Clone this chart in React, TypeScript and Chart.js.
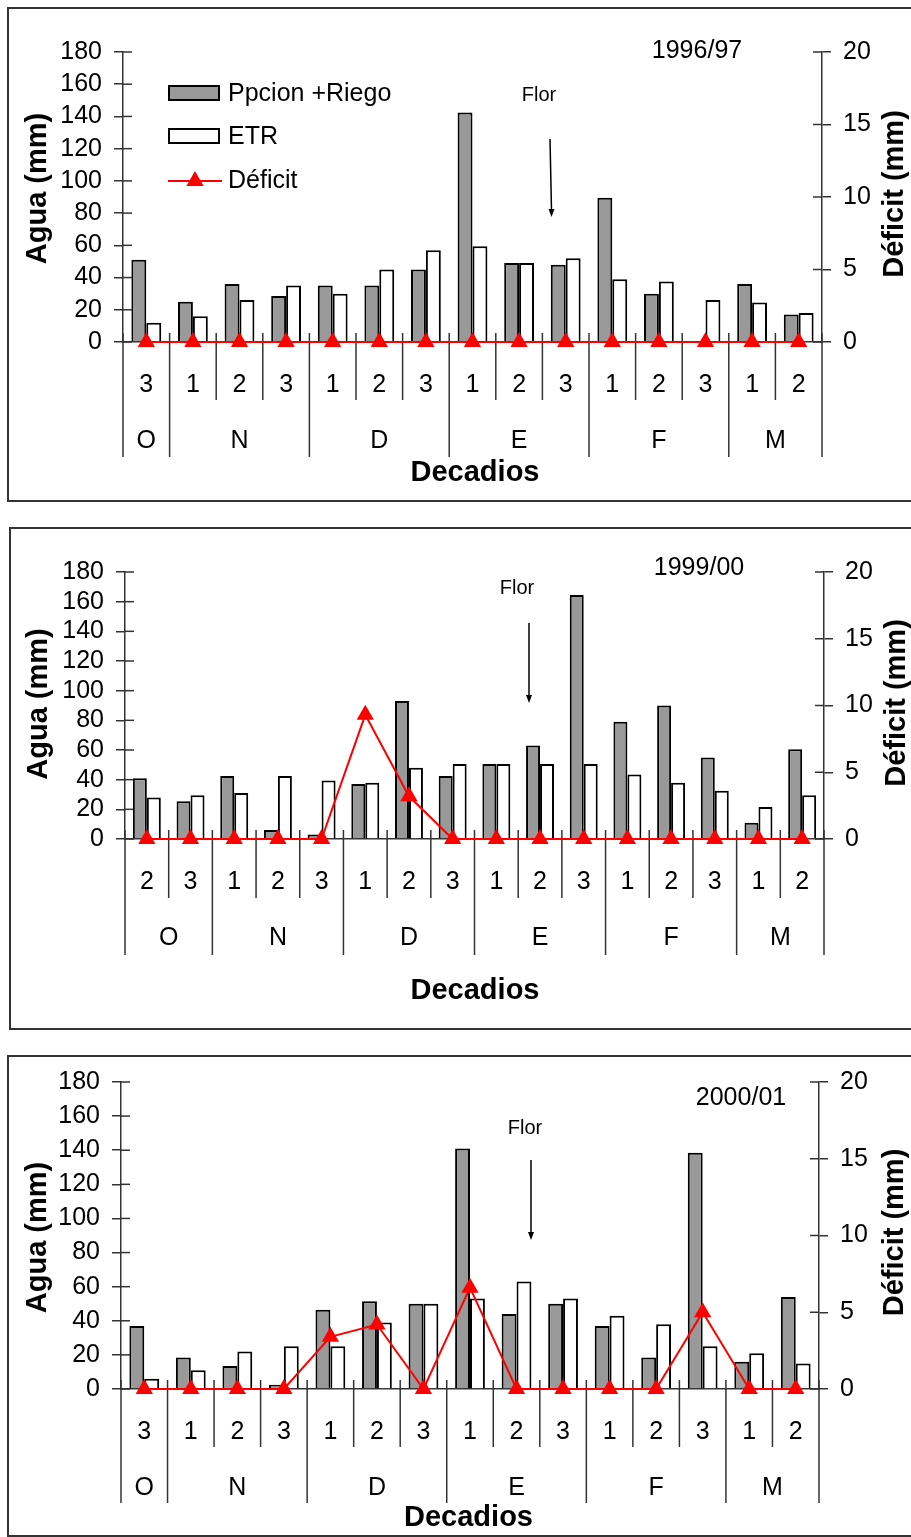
import React, { useEffect, useRef } from 'react';
import { Chart, registerables } from 'chart.js';

Chart.register(...registerables);

const FONT = "'Liberation Sans', Arial, Helvetica, sans-serif";
const AX = '#333333';
const RED = '#ff0000';
const GRAY = '#999999';
const PAGE_W = 911;

// ---------- Data: 1996/97 ----------
const labels1 = ['3', '1', '2', '3', '1', '2', '3', '1', '2', '3', '1', '2', '3', '1', '2'];
const months1 = ['O', 'N', 'D', 'E', 'F', 'M'];
const monthCounts1 = [1, 3, 3, 3, 3, 2];
const ppcion1 = [51, 25, 36, 28.5, 35, 35, 45, 142.5, 49, 48, 89.5, 30, 0, 36, 17];
const etr1 = [12, 16, 26, 35, 30, 45, 57, 59.5, 49, 52, 39, 37.5, 26, 24.5, 18];
const deficit1 = [0, 0, 0, 0, 0, 0, 0, 0, 0, 0, 0, 0, 0, 0, 0];

// ---------- Data: 1999/00 ----------
const labels2 = ['2', '3', '1', '2', '3', '1', '2', '3', '1', '2', '3', '1', '2', '3', '1', '2'];
const months2 = ['O', 'N', 'D', 'E', 'F', 'M'];
const monthCounts2 = [2, 3, 3, 3, 3, 2];
const ppcion2 = [41, 25.5, 42.5, 6, 3, 37, 93, 42.5, 50.5, 63, 164.5, 79, 90, 55, 11, 60.5];
const etr2 = [28, 29.5, 31, 42.5, 39.5, 38, 48, 50.5, 50.5, 50.5, 50.5, 43.5, 38, 32.5, 21.5, 29.5];
const deficit2 = [0, 0, 0, 0, 0, 9.3, 3.2, 0, 0, 0, 0, 0, 0, 0, 0, 0];

// ---------- Data: 2000/01 ----------
const labels3 = ['3', '1', '2', '3', '1', '2', '3', '1', '2', '3', '1', '2', '3', '1', '2'];
const months3 = ['O', 'N', 'D', 'E', 'F', 'M'];
const monthCounts3 = [1, 3, 3, 3, 3, 2];
const ppcion3 = [37, 18.5, 13.5, 2.5, 46.5, 51.5, 50, 141, 44, 50, 37, 18.5, 138.5, 16, 54];
const etr3 = [6, 11, 22, 25, 25, 39, 50, 53, 63, 53, 43, 38, 25, 21, 15];
const deficit3 = [0, 0, 0, 0, 3.4, 4.2, 0, 6.6, 0, 0, 0, 0, 5.0, 0, 0];

const yLeftTicks = { min: 0, max: 180, step: 20 };
const yRightTicks = { min: 0, max: 20, step: 5 };

const seriesNames = ['Ppcion +Riego', 'ETR', 'Déficit'];

type PanelCfg = {
  labels: string[]; months: string[]; monthCounts: number[];
  ppcion: number[]; etr: number[]; deficit: number[];
  year: string; legend: boolean;
  top: number; height: number; boxLeft: number;
  left: number; right: number; chartTop: number; chartBottom: number;
  decSep: number; monSep: number; monLabel: number; decadios: number; decadiosX: number;
  aguaX: number; aguaY: number; defX: number; defY: number;
  yearX: number; yearY: number; florX: number; florY: number;
  arrowX1: number; arrowY1: number; arrowX2: number; arrowY2: number;
};

const panels: PanelCfg[] = [
  {
    labels: labels1, months: months1, monthCounts: monthCounts1,
    ppcion: ppcion1, etr: etr1, deficit: deficit1, year: '1996/97', legend: true,
    top: 7, height: 495, boxLeft: 7, left: 123, right: 822, chartTop: 52, chartBottom: 342,
    decSep: 58, monSep: 115, monLabel: 99, decadios: 131, decadiosX: 475,
    aguaX: 37.5, aguaY: 188.5, defX: 895, defY: 194,
    yearX: 697, yearY: 51, florX: 539, florY: 95,
    arrowX1: 550, arrowY1: 139, arrowX2: 551.5, arrowY2: 217,
  },
  {
    labels: labels2, months: months2, monthCounts: monthCounts2,
    ppcion: ppcion2, etr: etr2, deficit: deficit2, year: '1999/00', legend: false,
    top: 527, height: 503, boxLeft: 9, left: 125, right: 824, chartTop: 572, chartBottom: 839,
    decSep: 59, monSep: 116, monLabel: 99, decadios: 152, decadiosX: 475,
    aguaX: 39, aguaY: 704, defX: 897, defY: 703,
    yearX: 699, yearY: 568, florX: 517, florY: 588,
    arrowX1: 529, arrowY1: 623, arrowX2: 529, arrowY2: 703,
  },
  {
    labels: labels3, months: months3, monthCounts: monthCounts3,
    ppcion: ppcion3, etr: etr3, deficit: deficit3, year: '2000/01', legend: false,
    top: 1055, height: 482, boxLeft: 7, left: 121, right: 819, chartTop: 1082, chartBottom: 1389,
    decSep: 58, monSep: 114, monLabel: 99, decadios: 129, decadiosX: 468.5,
    aguaX: 37.5, aguaY: 1237.5, defX: 895, defY: 1232.5,
    yearX: 741, yearY: 1098, florX: 525, florY: 1128,
    arrowX1: 531, arrowY1: 1160, arrowX2: 531, arrowY2: 1240,
  },
];

function drawTriangle(ctx: CanvasRenderingContext2D, x: number, y: number, r: number) {
  ctx.beginPath();
  ctx.moveTo(x, y - r);
  ctx.lineTo(x + r * 0.866, y + r * 0.5);
  ctx.lineTo(x - r * 0.866, y + r * 0.5);
  ctx.closePath();
  ctx.fill();
}

function makeDecor(p: PanelCfg) {
  const oy = p.top;
  return {
    id: 'decor',
    beforeDatasetsDraw(chart: any) {
      const { ctx, scales } = chart;
      const x = scales.x, y = scales.y, y1 = scales.y1;
      const axisY = y.getPixelForValue(0);
      const n = p.labels.length;
      const step = x.getPixelForValue(1) - x.getPixelForValue(0);
      ctx.save();
      ctx.strokeStyle = AX;
      ctx.lineWidth = 1.5;
      // inner halves of the cross tick marks
      y.ticks.forEach((t: any) => {
        const py = y.getPixelForValue(t.value);
        ctx.beginPath(); ctx.moveTo(y.right, py); ctx.lineTo(y.right + 9, py); ctx.stroke();
      });
      y1.ticks.forEach((t: any) => {
        const py = y1.getPixelForValue(t.value);
        ctx.beginPath(); ctx.moveTo(y1.left - 9, py); ctx.lineTo(y1.left, py); ctx.stroke();
      });
      // category separators
      const monthBounds = new Set<number>();
      let acc = 0;
      monthBounds.add(0);
      p.monthCounts.forEach((c) => { acc += c; monthBounds.add(acc); });
      for (let i = 0; i <= n; i++) {
        const bx = i < n ? x.getPixelForValue(i) - step / 2 : x.getPixelForValue(n - 1) + step / 2;
        const len = monthBounds.has(i) ? p.monSep : p.decSep;
        ctx.beginPath();
        ctx.moveTo(bx, axisY - 9);
        ctx.lineTo(bx, axisY + len);
        ctx.stroke();
      }
      ctx.restore();
    },
    afterDraw(chart: any) {
      const { ctx, scales } = chart;
      const x = scales.x, y = scales.y;
      const axisY = y.getPixelForValue(0);
      ctx.save();
      ctx.fillStyle = '#000';
      // month labels
      ctx.font = `25px ${FONT}`;
      ctx.textAlign = 'center';
      ctx.textBaseline = 'middle';
      let s = 0;
      p.months.forEach((m, k) => {
        const c = p.monthCounts[k];
        const cx = (x.getPixelForValue(s) + x.getPixelForValue(s + c - 1)) / 2;
        ctx.fillText(m, cx, axisY + p.monLabel);
        s += c;
      });
      // axis titles
      ctx.font = `bold 29px ${FONT}`;
      ctx.fillText('Decadios', p.decadiosX, axisY + p.decadios);
      ctx.save();
      ctx.translate(p.aguaX, p.aguaY - oy);
      ctx.rotate(-Math.PI / 2);
      ctx.fillText('Agua (mm)', 0, 0);
      ctx.restore();
      ctx.save();
      ctx.translate(p.defX, p.defY - oy);
      ctx.rotate(-Math.PI / 2);
      ctx.fillText('Déficit (mm)', 0, 0);
      ctx.restore();
      // year label
      ctx.font = `25px ${FONT}`;
      ctx.fillText(p.year, p.yearX, p.yearY - oy);
      // Flor annotation
      ctx.font = `20px ${FONT}`;
      ctx.fillText('Flor', p.florX, p.florY - oy);
      ctx.strokeStyle = '#000';
      ctx.lineWidth = 1.5;
      ctx.beginPath();
      ctx.moveTo(p.arrowX1, p.arrowY1 - oy);
      ctx.lineTo(p.arrowX2, p.arrowY2 - oy - 6);
      ctx.stroke();
      ctx.beginPath();
      ctx.moveTo(p.arrowX2, p.arrowY2 - oy);
      ctx.lineTo(p.arrowX2 - 3, p.arrowY2 - oy - 8);
      ctx.lineTo(p.arrowX2 + 3, p.arrowY2 - oy - 8);
      ctx.closePath();
      ctx.fill();
      // legend
      if (p.legend) {
        ctx.lineWidth = 2;
        ctx.strokeStyle = '#000';
        ctx.fillStyle = GRAY;
        ctx.fillRect(169, 86 - oy, 50, 14);
        ctx.strokeRect(169, 86 - oy, 50, 14);
        ctx.fillStyle = '#fff';
        ctx.fillRect(169, 129 - oy, 50, 14);
        ctx.strokeRect(169, 129 - oy, 50, 14);
        ctx.strokeStyle = RED;
        ctx.beginPath();
        ctx.moveTo(168, 181 - oy);
        ctx.lineTo(222, 181 - oy);
        ctx.stroke();
        ctx.fillStyle = RED;
        drawTriangle(ctx, 195, 181 - oy, 10);
        ctx.fillStyle = '#000';
        ctx.font = `25px ${FONT}`;
        ctx.textAlign = 'left';
        ctx.fillText(seriesNames[0], 228, 94 - oy);
        ctx.fillText(seriesNames[1], 228, 137 - oy);
        ctx.fillText(seriesNames[2], 228, 181 - oy);
      }
      ctx.restore();
    },
  };
}

function Panel({ p }: { p: PanelCfg }) {
  const ref = useRef<HTMLCanvasElement | null>(null);
  useEffect(() => {
    if (!ref.current) return;
    const xH = p.top + p.height - p.chartBottom;
    const tickFont = { size: 25, family: FONT };
    const chart = new Chart(ref.current, {
      type: 'bar',
      data: {
        labels: p.labels,
        datasets: [
          {
            type: 'line', label: seriesNames[2], data: p.deficit, yAxisID: 'y1',
            borderColor: RED, backgroundColor: RED, borderWidth: 2, tension: 0,
            pointStyle: 'triangle', pointRadius: 10, pointBackgroundColor: RED,
            pointBorderColor: RED, pointBorderWidth: 0, clip: false, order: 0,
          } as any,
          {
            type: 'bar', label: seriesNames[0], data: p.ppcion, yAxisID: 'y',
            backgroundColor: GRAY, borderColor: '#000', borderWidth: 2,
            categoryPercentage: 0.64, barPercentage: 1, order: 1,
          } as any,
          {
            type: 'bar', label: seriesNames[1], data: p.etr, yAxisID: 'y',
            backgroundColor: '#ffffff', borderColor: '#000', borderWidth: 2,
            categoryPercentage: 0.64, barPercentage: 1, order: 2,
          } as any,
        ],
      },
      options: {
        responsive: false,
        animation: false,
        events: [],
        layout: { padding: { top: p.chartTop - p.top, left: 0, right: 0, bottom: 0 } },
        plugins: { legend: { display: false }, tooltip: { enabled: false }, title: { display: false } },
        scales: {
          x: {
            type: 'category', offset: true,
            grid: { display: false },
            border: { display: true, color: AX, width: 1.5 },
            ticks: { font: tickFont, color: '#000', padding: 20, maxRotation: 0, autoSkip: false },
            afterFit: (s: any) => { s.height = xH; },
          },
          y: {
            position: 'left', min: yLeftTicks.min, max: yLeftTicks.max,
            ticks: { stepSize: yLeftTicks.step, font: tickFont, color: '#000', padding: 12, autoSkip: false },
            grid: { display: true, drawOnChartArea: false, drawTicks: true, tickLength: 9, color: AX, lineWidth: 1.5 },
            border: { display: true, color: AX, width: 1.5 },
            afterFit: (s: any) => { s.width = p.left; },
          },
          y1: {
            position: 'right', min: yRightTicks.min, max: yRightTicks.max,
            ticks: { stepSize: yRightTicks.step, font: tickFont, color: '#000', padding: 12, autoSkip: false },
            grid: { display: true, drawOnChartArea: false, drawTicks: true, tickLength: 9, color: AX, lineWidth: 1.5 },
            border: { display: true, color: AX, width: 1.5 },
            afterFit: (s: any) => { s.width = PAGE_W - p.right; },
          },
        },
      } as any,
      plugins: [makeDecor(p)],
    });
    return () => chart.destroy();
  }, [p]);

  return (
    <>
      <div
        style={{
          position: 'absolute', left: p.boxLeft, top: p.top, width: PAGE_W + 20 - p.boxLeft,
          height: p.height, border: '2px solid #333', boxSizing: 'border-box', background: '#fff',
        }}
      />
      <canvas
        ref={ref}
        width={PAGE_W}
        height={p.height}
        style={{ position: 'absolute', left: 0, top: p.top, width: PAGE_W, height: p.height }}
      />
    </>
  );
}

export default function App() {
  return (
    <div
      style={{
        position: 'fixed', left: 0, top: 0, width: PAGE_W, height: 1537,
        overflow: 'hidden', background: '#fff', fontFamily: FONT,
      }}
    >
      {panels.map((p, i) => (
        <Panel key={i} p={p} />
      ))}
    </div>
  );
}
